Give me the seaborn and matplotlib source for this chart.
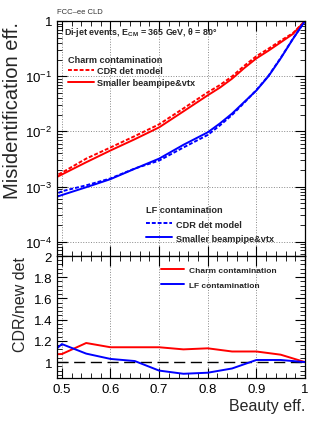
"""Beauty tagging: misidentification efficiency, CDR vs smaller beampipe detector."""
import numpy as np
import pandas as pd
import matplotlib
matplotlib.use("Agg")
import matplotlib.pyplot as plt
import matplotlib.ticker as mticker
import seaborn as sns

sns.set_style("ticks")
plt.rcParams["font.family"] = ["Liberation Sans", "DejaVu Sans"]
plt.rcParams["mathtext.fontset"] = "custom"
plt.rcParams["mathtext.rm"] = "Liberation Sans"
plt.rcParams["mathtext.bf"] = "Liberation Sans:bold"

# beauty efficiency grid and misidentification efficiencies
beauty_eff = [0.45, 0.50, 0.55, 0.60, 0.65, 0.70, 0.75, 0.80, 0.825, 0.85, 0.875,
              0.90, 0.925, 0.95, 0.975, 1.0]
charm_cdr = [1.07e-3, 1.78e-3, 3.2e-3, 5.1e-3, 8.2e-3, 1.34e-2, 2.6e-2, 5.1e-2, 0.069,
             9.9e-2, 0.154, 0.23, 0.315, 0.44, 0.60, 1.0]
charm_new = [1.0e-3, 1.65e-3, 2.75e-3, 4.5e-3, 7.2e-3, 1.18e-2, 2.3e-2, 4.5e-2, 0.062,
             9.0e-2, 0.14, 0.21, 0.29, 0.41, 0.58, 1.0]
lf_cdr = [4.9e-4, 8.2e-4, 1.05e-3, 1.4e-3, 2.12e-3, 2.95e-3, 5.1e-3, 8.6e-3, 0.0128,
          1.98e-2, 0.033, 5.6e-2, 0.102, 0.214, 0.475, 1.0]
lf_new = [5.0e-4, 7.0e-4, 9.7e-4, 1.36e-3, 2.1e-3, 3.2e-3, 5.7e-3, 9.6e-3, 0.0139,
          2.1e-2, 0.034, 5.5e-2, 0.10, 0.21, 0.47, 1.0]

# ratio panel
ratio_eff = [0.45, 0.50, 0.55, 0.60, 0.65, 0.70, 0.75, 0.80, 0.85, 0.90, 0.95, 1.0]
ratio_charm = [1.07, 1.076, 1.18, 1.14, 1.14, 1.14, 1.12, 1.13, 1.10, 1.10, 1.07, 1.0]
ratio_lf = [0.97, 1.17, 1.08, 1.03, 1.01, 0.92, 0.89, 0.90, 0.94, 1.02, 1.02, 1.0]

log_ticks = [1e-4, 1e-3, 1e-2, 1e-1, 1]
log_labels = ["10$^{-4}$", "10$^{-3}$", "10$^{-2}$", "10$^{-1}$", "1"]
ratio_ticks = [1.0, 1.2, 1.4, 1.6, 1.8, 2.0]
ratio_labels = ["1", "1.2", "1.4", "1.6", "1.8", "2"]
x_ticks = [0.5, 0.6, 0.7, 0.8, 0.9, 1.0]
x_labels = ["0.5", "0.6", "0.7", "0.8", "0.9", "1"]

RED, BLUE = "#ff0000", "#0000ff"
DOT = (0, (2, 1))


def style_axis(ax):
    ax.tick_params(which="both", direction="in", top=True, right=True, colors="black")
    ax.tick_params(which="major", length=7, width=0.8, labelsize=9.5)
    ax.tick_params(which="minor", length=3.5, width=0.6)
    for s in ax.spines.values():
        s.set_linewidth(0.9)
        s.set_color("black")


fig = plt.figure(figsize=(3.32, 4.31), dpi=100)
ax1 = fig.add_axes([0.1717, 0.4037, 0.747, 0.5453])
ax2 = fig.add_axes([0.1717, 0.1206, 0.747, 0.2831])

df = pd.DataFrame({"eff": beauty_eff, "charm_cdr": charm_cdr, "charm_new": charm_new,
                   "lf_cdr": lf_cdr, "lf_new": lf_new})

sns.lineplot(data=df, x="eff", y="charm_cdr", color=RED, lw=1.4, ls=DOT, ax=ax1)
sns.lineplot(data=df, x="eff", y="charm_new", color=RED, lw=1.4, ax=ax1)
sns.lineplot(data=df, x="eff", y="lf_cdr", color=BLUE, lw=1.4, ls=DOT, ax=ax1)
sns.lineplot(data=df, x="eff", y="lf_new", color=BLUE, lw=1.4, ax=ax1)
lines = ax1.get_lines()

ax1.set_yscale("log")
ax1.set_xlim(0.49, 1.0)
ax1.set_ylim(5.5e-5, 1.0)
ax1.set_yticks(log_ticks)
ax1.set_yticklabels(log_labels)
ax1.yaxis.set_minor_locator(mticker.LogLocator(base=10, subs=np.arange(2, 10)))
ax1.yaxis.set_minor_formatter(mticker.NullFormatter())
ax1.set_xticks(x_ticks)
ax1.xaxis.set_minor_locator(mticker.MultipleLocator(0.02))
ax1.set_xticklabels([])
ax1.grid(which="major", ls=":", color="#888888", lw=0.7)
ax1.set_xlabel("")
ax1.set_ylabel("Misidentification eff.", loc="top", fontsize=14.5, labelpad=2)
style_axis(ax1)

leg_font = {"size": 6.6, "weight": "bold"}
leg1 = ax1.legend([lines[0], lines[1]], ["CDR det model", "Smaller beampipe&vtx"],
                  title="Charm contamination", alignment="left", loc="upper left",
                  bbox_to_anchor=(0.045, 0.857), frameon=False, prop=leg_font,
                  title_fontproperties=leg_font, handlelength=2.8, handletextpad=0.4,
                  labelspacing=0.3, borderpad=0, borderaxespad=0)
ax1.add_artist(leg1)
ax1.legend([lines[2], lines[3]], ["CDR det model", "Smaller beampipe&vtx"],
           title="LF contamination", alignment="left", loc="upper left",
           bbox_to_anchor=(0.36, 0.215), frameon=False, prop=leg_font,
           title_fontproperties=leg_font, handlelength=2.8, handletextpad=0.4,
           labelspacing=0.55, borderpad=0, borderaxespad=0)
ax1.text(0.03, 0.985, "Di-jet events, E$_{\\mathbf{CM}}$ = 365 GeV, θ = 80°",
         transform=ax1.transAxes, fontsize=6.4, fontweight="bold", va="top", ha="left")

rdf = pd.DataFrame({"eff": ratio_eff, "charm": ratio_charm, "lf": ratio_lf})
sns.lineplot(data=rdf, x="eff", y="charm", color=RED, lw=1.4, ax=ax2,
             label="Charm contamination")
sns.lineplot(data=rdf, x="eff", y="lf", color=BLUE, lw=1.4, ax=ax2,
             label="LF contamination")
ax2.axhline(1.0, color="black", lw=1.0, ls=(0, (8, 4)), zorder=1)
ax2.set_xlim(0.49, 1.0)
ax2.set_ylim(0.85, 2.0)
ax2.set_yticks(ratio_ticks)
ax2.set_yticklabels(ratio_labels)
ax2.yaxis.set_minor_locator(mticker.MultipleLocator(0.04))
ax2.set_xticks(x_ticks)
ax2.set_xticklabels(x_labels)
ax2.xaxis.set_minor_locator(mticker.MultipleLocator(0.02))
ax2.grid(axis="x", which="major", ls=":", color="#888888", lw=0.7)
ax2.set_ylabel("CDR/new det", loc="top", fontsize=11.5, labelpad=4)
ax2.set_xlabel("Beauty eff.", loc="right", fontsize=11.5, labelpad=2)
ax2.legend(loc="upper left", bbox_to_anchor=(0.42, 0.918), frameon=False,
           prop={"size": 6.0, "weight": "bold"}, handlelength=2.8, handletextpad=0.5,
           labelspacing=0.85, borderpad=0, borderaxespad=0)
style_axis(ax2)

fig.text(0.172, 0.972, "FCC–ee CLD", fontsize=5.5, color="#333333", ha="left", va="center")

fig.savefig("out.png", dpi=100)
